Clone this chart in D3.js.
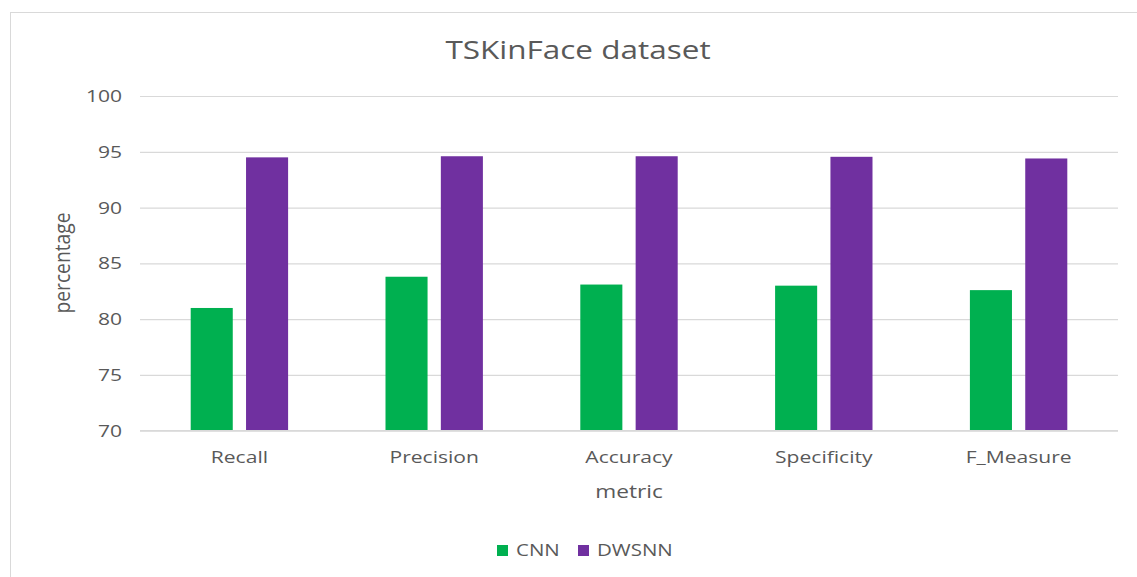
<!DOCTYPE html>
<html>
<head>
<meta charset="utf-8">
<script src="https://cdn.jsdelivr.net/npm/d3@7"></script>
<style>
  html, body { margin: 0; padding: 0; background: #fff; }
  svg text { font-family: "Open Sans", "Liberation Sans", sans-serif; fill: #595959; }
</style>
</head>
<body>
<svg id="chart" width="1137" height="577"></svg>
<script>
const categories = ["Recall", "Precision", "Accuracy", "Specificity", "F_Measure"];
const seriesNames = ["CNN", "DWSNN"];
const cnnValues = [81.0, 83.8, 83.1, 83.0, 82.6];
const dwsnnValues = [94.5, 94.6, 94.6, 94.55, 94.4];
const yTicks = [70, 75, 80, 85, 90, 95, 100];
const colors = ["#00B050", "#7030A0"];
const titleText = "TSKinFace dataset";
const xTitle = "metric";
const yTitle = "percentage";

const seriesValues = [cnnValues, dwsnnValues];
const svg = d3.select("#chart");
const SX = 1.24; // horizontal stretch of text in the reference

// frame
svg.append("rect").attr("x", 10.5).attr("y", 12.5).attr("width", 1140).attr("height", 580)
  .attr("fill", "#fff").attr("stroke", "#d9d9d9").attr("stroke-width", 1);

const gridLeft = 140, gridRight = 1118, plotTop = 96, plotBottom = 430.7;
const x0 = d3.scaleBand().domain(categories).range([142, 1116]).paddingInner(0.5).paddingOuter(0.25);
const x1 = d3.scaleBand().domain(seriesNames).range([0, x0.bandwidth()]).paddingInner(0.24);
const y = d3.scaleLinear().domain([70, 100]).range([plotBottom, plotTop]);

// gridlines
const yAxis = d3.axisLeft(y).tickValues(yTicks).tickSize(-(gridRight - gridLeft)).tickPadding(18);
const gy = svg.append("g").attr("transform", `translate(${gridLeft},0)`).call(yAxis);
gy.select(".domain").remove();
gy.selectAll(".tick line").attr("stroke", "#d9d9d9").attr("stroke-width", 1.2);
gy.selectAll(".tick text").each(function() {
  const t = d3.select(this);
  const xx = +t.attr("x");
  t.attr("x", 0).attr("transform", `translate(${xx},0) scale(${SX},1)`);
}).attr("font-size", 17).style("fill", "#595959");

// bars
const groups = svg.append("g").selectAll("g").data(categories).join("g")
  .attr("transform", d => `translate(${x0(d)},0)`);
groups.selectAll("rect")
  .data((c, i) => seriesNames.map((s, k) => ({ s, k, v: seriesValues[k][i] })))
  .join("rect")
  .attr("x", d => x1(d.s))
  .attr("width", x1.bandwidth())
  .attr("y", d => y(d.v))
  .attr("height", d => y(70) - y(d.v))
  .attr("fill", d => colors[d.k]);

// x axis
const xAxis = d3.axisBottom(x0).tickSize(0).tickPadding(20);
const gx = svg.append("g").attr("transform", `translate(0,${plotBottom})`).call(xAxis);
gx.select(".domain").attr("d", `M${gridLeft},0H${gridRight}`).attr("stroke", "#d9d9d9").attr("stroke-width", 1.2);
gx.selectAll(".tick text").attr("transform", `scale(${SX},1)`)
  .attr("font-size", 17).style("fill", "#595959");

// title
svg.append("text").attr("transform", `translate(578,59) scale(1.26,1)`).attr("text-anchor", "middle")
  .attr("font-size", 25).text(titleText);

// axis titles
svg.append("text").attr("transform", `translate(629,498) scale(1.26,1)`).attr("text-anchor", "middle")
  .attr("font-size", 18).text(xTitle);
svg.append("text").attr("transform", "translate(70,263) rotate(-90) scale(1.07,1.2)").attr("text-anchor", "middle")
  .attr("font-size", 18).text(yTitle);

// legend
const legendX = [497, 578];
const lg = svg.append("g").selectAll("g").data(seriesNames).join("g")
  .attr("transform", (d, i) => `translate(${legendX[i]},545)`);
lg.append("rect").attr("width", 11).attr("height", 11).attr("fill", (d, i) => colors[i]);
lg.append("text").attr("transform", "translate(19,11) scale(1.28,1)").attr("font-size", 16).text(d => d);
</script>
</body>
</html>
